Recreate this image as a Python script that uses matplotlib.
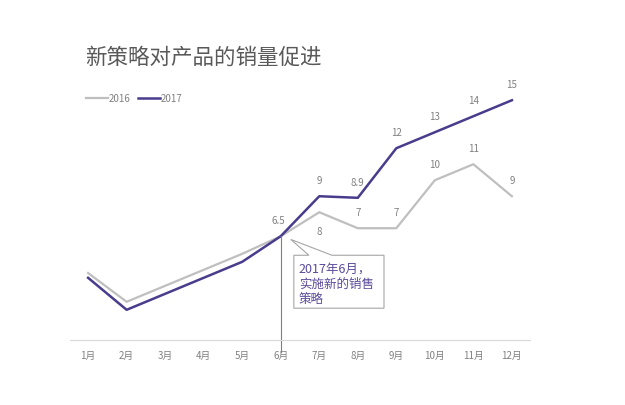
import matplotlib.pyplot as plt
from matplotlib.patches import Polygon

plt.rcParams['font.family'] = ['Noto Sans CJK SC', 'DejaVu Sans']

months = ['1月', '2月', '3月', '4月', '5月', '6月', '7月', '8月', '9月', '10月', '11月', '12月']
sales_2016 = [4.2, 2.4, 3.4, 4.4, 5.4, 6.5, 8, 7, 7, 10, 11, 9]
sales_2017 = [3.9, 1.9, 2.9, 3.9, 4.9, 6.5, 9, 8.9, 12, 13, 14, 15]
labels_2016 = ['', '', '', '', '', '', '8', '7', '7', '10', '11', '9']
labels_2017 = ['', '', '', '', '', '6.5', '9', '8.9', '12', '13', '14', '15']

c16 = '#bfbfbf'
c17 = '#4a3c8c'
txt = '#808080'

fig = plt.figure(figsize=(6.25, 4.05), dpi=100)
ax = fig.add_axes([0.112, 0.16, 0.736, 0.632])
x = list(range(1, len(months) + 1))

ax.plot(x, sales_2016, color=c16, lw=1.6, label='2016')
ax.plot(x, sales_2017, color=c17, lw=1.8, label='2017')

# data labels
for xi, v, lab in zip(x, sales_2016, labels_2016):
    if not lab:
        continue
    dy = -14 if lab == '8' else 11
    ax.annotate(lab, (xi, v), xytext=(0, dy), textcoords='offset points',
                ha='center', va='center', fontsize=7, color=txt)
for xi, v, lab in zip(x, sales_2017, labels_2017):
    if not lab:
        continue
    dx = -2 if lab == '6.5' else 0
    ax.annotate(lab, (xi, v), xytext=(dx, 11), textcoords='offset points',
                ha='center', va='center', fontsize=7, color=txt)

ax.set_xlim(0.53, 12.47)
ax.set_ylim(0, 16)
ax.set_xticks(x)
ax.set_xticklabels(months, fontsize=7, color=txt)
ax.tick_params(axis='x', length=0, pad=8)
ax.set_yticks([])
for s in ['top', 'right', 'left']:
    ax.spines[s].set_visible(False)
ax.spines['bottom'].set_color('#d9d9d9')
ax.spines['bottom'].set_linewidth(0.8)

# marker line at the policy change
ax.plot([6, 6], [sales_2017[5], -0.75], color='#7f7f7f', lw=0.8, clip_on=False)

# callout box
callout = Polygon([(6.34, 5.31), (6.73, 5.31), (6.26, 6.3), (7.33, 5.31),
                   (8.68, 5.31), (8.68, 2.0), (6.34, 2.0)],
                  closed=True, facecolor='white', edgecolor='#a6a6a6', lw=0.8, zorder=3)
ax.add_patch(callout)
ax.text(6.47, 3.5, '2017年6月，\n实施新的销售\n策略', fontsize=9, color='#5b4a9a',
        ha='left', va='center', linespacing=1.25, zorder=4)

fig.legend(loc='center left', bbox_to_anchor=(0.138, 0.756), ncol=2, frameon=False,
           fontsize=7, handlelength=2.2, handletextpad=0.1, columnspacing=0.8,
           borderpad=0, borderaxespad=0, labelcolor=txt)

fig.text(0.136, 0.857, '新策略对产品的销量促进', fontsize=15.5, color='#595959',
         ha='left', va='center')

fig.savefig('out.png', dpi=100)
